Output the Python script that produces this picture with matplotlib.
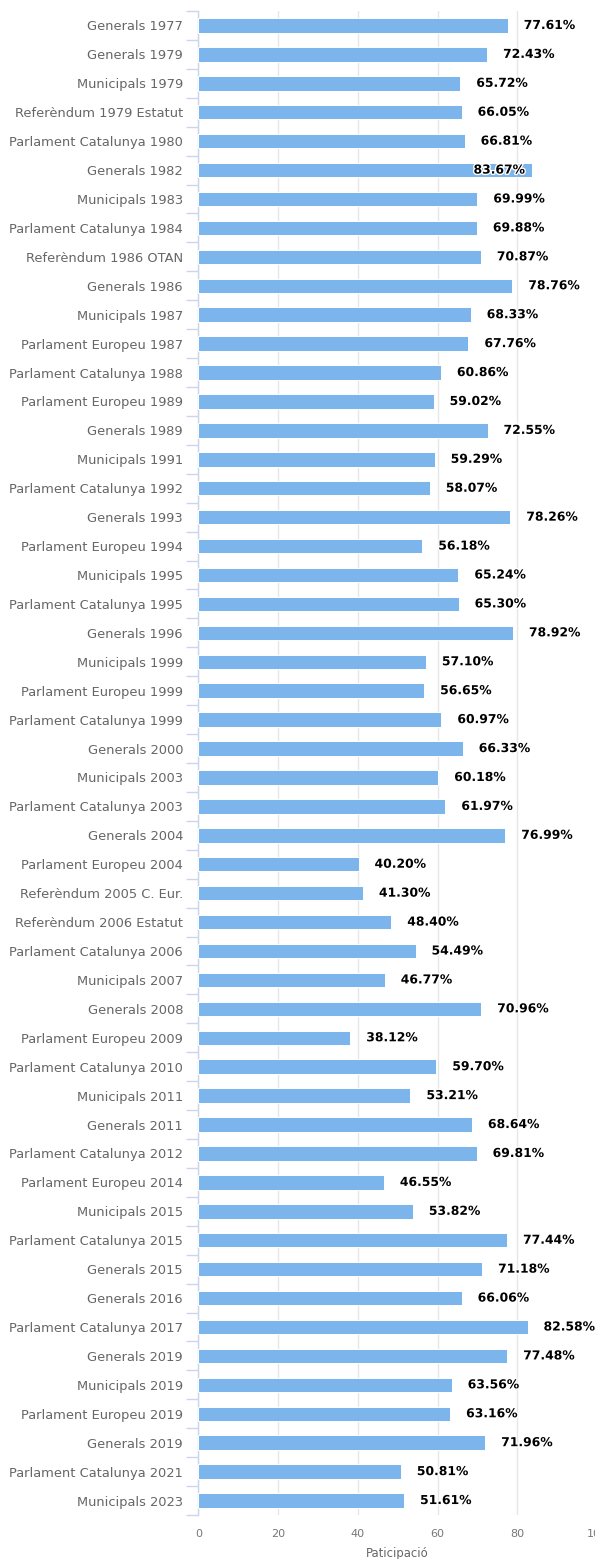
import matplotlib.pyplot as plt
import matplotlib.patheffects as pe
from matplotlib.ticker import FixedLocator

eleccions = [
    "Generals 1977", "Generals 1979", "Municipals 1979", "Referèndum 1979 Estatut",
    "Parlament Catalunya 1980", "Generals 1982", "Municipals 1983", "Parlament Catalunya 1984",
    "Referèndum 1986 OTAN", "Generals 1986", "Municipals 1987", "Parlament Europeu 1987",
    "Parlament Catalunya 1988", "Parlament Europeu 1989", "Generals 1989", "Municipals 1991",
    "Parlament Catalunya 1992", "Generals 1993", "Parlament Europeu 1994", "Municipals 1995",
    "Parlament Catalunya 1995", "Generals 1996", "Municipals 1999", "Parlament Europeu 1999",
    "Parlament Catalunya 1999", "Generals 2000", "Municipals 2003", "Parlament Catalunya 2003",
    "Generals 2004", "Parlament Europeu 2004", "Referèndum 2005 C. Eur.", "Referèndum 2006 Estatut",
    "Parlament Catalunya 2006", "Municipals 2007", "Generals 2008", "Parlament Europeu 2009",
    "Parlament Catalunya 2010", "Municipals 2011", "Generals 2011", "Parlament Catalunya 2012",
    "Parlament Europeu 2014", "Municipals 2015", "Parlament Catalunya 2015", "Generals 2015",
    "Generals 2016", "Parlament Catalunya 2017", "Generals 2019", "Municipals 2019",
    "Parlament Europeu 2019", "Generals 2019", "Parlament Catalunya 2021", "Municipals 2023",
]
participacio = [
    77.61, 72.43, 65.72, 66.05, 66.81, 83.67, 69.99, 69.88,
    70.87, 78.76, 68.33, 67.76, 60.86, 59.02, 72.55, 59.29,
    58.07, 78.26, 56.18, 65.24, 65.30, 78.92, 57.10, 56.65,
    60.97, 66.33, 60.18, 61.97, 76.99, 40.20, 41.30, 48.40,
    54.49, 46.77, 70.96, 38.12, 59.70, 53.21, 68.64, 69.81,
    46.55, 53.82, 77.44, 71.18, 66.06, 82.58, 77.48, 63.56,
    63.16, 71.96, 50.81, 51.61,
]
x_ticks = [0, 20, 40, 60, 80, 100]

fig = plt.figure(figsize=(5.95, 15.59), dpi=100)
ax = fig.add_axes([198.3 / 595, 44 / 1559, 398.7 / 595, 1504 / 1559])

pos = list(range(len(eleccions)))
ax.barh(pos, participacio, height=0.5, color="#7cb5ec", edgecolor="white",
        linewidth=0.7, zorder=3)

# etiquetes de valor (la que no hi cap va dins la barra)
outline = [pe.withStroke(linewidth=2, foreground="white")]
for p, v in zip(pos, participacio):
    if v > 83:
        ax.annotate(f"{v:.2f}%", (v, p), xytext=(-7, 0), textcoords="offset pixels",
                    ha="right", va="center", fontsize=8.9, fontweight="bold",
                    color="black", path_effects=outline, zorder=5)
    else:
        ax.annotate(f"{v:.2f}%", (v, p), xytext=(16, 0), textcoords="offset pixels",
                    ha="left", va="center", fontsize=8.9, fontweight="bold",
                    color="black", path_effects=outline, zorder=5)

ax.set_xlim(0, 100)
ax.set_ylim(len(eleccions) - 0.5, -0.5)

ax.set_xticks(x_ticks)
ax.tick_params(axis="x", length=0, labelsize=8, labelcolor="#777777", pad=10)
ax.grid(axis="x", color="#e6e6e6", linewidth=1, zorder=0)

ax.set_yticks(pos)
ax.set_yticklabels(eleccions)
ax.yaxis.set_minor_locator(FixedLocator([k - 0.5 for k in range(len(eleccions) + 1)]))
ax.tick_params(axis="y", which="major", length=0, labelsize=9.4, labelcolor="#666666", pad=11)
ax.tick_params(axis="y", which="minor", length=9, width=1, color="#ccd6eb")

for s in ["top", "right", "bottom"]:
    ax.spines[s].set_visible(False)
ax.spines["left"].set_color("#ccd6eb")
ax.spines["left"].set_linewidth(1)

ax.set_xlabel("Paticipació", fontsize=8.4, color="#666666", labelpad=6)

fig.savefig("out.png", dpi=100)
